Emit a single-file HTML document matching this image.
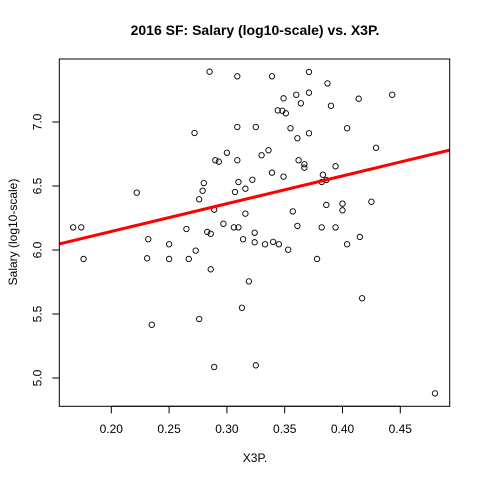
<!DOCTYPE html>
<html><head><meta charset="utf-8"><style>
html,body{margin:0;padding:0;background:#fff;}
svg text{font-family:"Liberation Sans",Arial,sans-serif;}
</style></head><body>
<svg id="chart" width="480" height="480" viewBox="0 0 480 480">
<text x="255" y="35" text-anchor="middle" font-size="14" font-weight="bold">2016 SF: Salary (log10-scale) vs. X3P.</text>
<text x="255" y="462" text-anchor="middle" font-size="12">X3P.</text>
<text x="0" y="0" transform="translate(17,232) rotate(-90)" text-anchor="middle" font-size="12">Salary (log10-scale)</text>
<g id="xaxis"></g>
<g id="yaxis"></g>
<g id="points"></g>
<g id="fit"></g>
<rect x="59.3" y="59" width="390.4" height="347.3" fill="none" stroke="#000" stroke-width="1"/>
</svg>
<script>
const xTicks = [0.20, 0.25, 0.30, 0.35, 0.40, 0.45];
const xTickLabels = ["0.20", "0.25", "0.30", "0.35", "0.40", "0.45"];
const yTicks = [5.0, 5.5, 6.0, 6.5, 7.0];
const yTickLabels = ["5.0", "5.5", "6.0", "6.5", "7.0"];
const x3p = [.285,.309,.339,.371,.387,.360,.371,.349,.364,.390,.414,.344,.348,.351,.272,.309,.325,.355,.371,.361,.404,.429,.300,.336,.330,.290,.293,.309,.362,.367,.367,.394,.339,.349,.322,.310,.280,.279,.307,.316,.276,.383,.386,.382,.289,.316,.357,.386,.400,.400,.425,.297,.265,.283,.286,.306,.310,.324,.314,.324,.333,.340,.345,.353,.361,.382,.394,.415,.404,.378,.273,.267,.286,.319,.417,.313,.276,.289,.325,.480,.443,.222,.167,.174,.232,.250,.176,.231,.250,.235];
const salary = [7.393,7.357,7.357,7.391,7.302,7.213,7.229,7.185,7.146,7.127,7.182,7.091,7.088,7.068,6.914,6.961,6.961,6.951,6.912,6.873,6.951,6.799,6.760,6.779,6.740,6.701,6.690,6.701,6.701,6.670,6.643,6.654,6.604,6.573,6.549,6.531,6.523,6.463,6.453,6.479,6.396,6.588,6.547,6.531,6.315,6.284,6.302,6.352,6.362,6.310,6.377,6.205,6.164,6.141,6.127,6.177,6.177,6.135,6.084,6.060,6.045,6.063,6.045,6.002,6.188,6.177,6.177,6.102,6.045,5.930,5.995,5.930,5.849,5.755,5.623,5.549,5.461,5.086,5.099,4.880,7.213,6.448,6.177,6.177,6.084,6.045,5.930,5.935,5.930,5.416];
const fitIntercept = [5.711];
const fitSlope = [2.17];

const NS = "http://www.w3.org/2000/svg";
const plotLeft = 59.3, plotRight = 449.7, plotTop = 59, plotBottom = 406.3;
function X(v){ return 111.3 + (v - 0.20) * 1156; }
function Y(v){ return 250 - (v - 6.0) * 128; }
function mk(tag, attrs, parent){ const e = document.createElementNS(NS, tag); for (const k in attrs) e.setAttribute(k, attrs[k]); parent.appendChild(e); return e; }

const xg = document.getElementById('xaxis');
mk('line', {x1: X(xTicks[0]), x2: X(xTicks[xTicks.length-1]), y1: plotBottom, y2: plotBottom, stroke: '#000'}, xg);
xTicks.forEach((t, i) => {
  const l = mk('line', {x1: X(t), x2: X(t), y1: plotBottom, y2: plotBottom + 7, stroke: '#000'}, xg);
  
  
  const tx = mk('text', {x: X(t), y: 433, 'text-anchor': 'middle', 'font-size': 12}, xg);
  tx.textContent = xTickLabels[i];
  
  
});
const yg = document.getElementById('yaxis');
yTicks.forEach((t, i) => {
  const l = mk('line', {x1: plotLeft - 7, x2: plotLeft, y1: Y(t), y2: Y(t), stroke: '#000'}, yg);
  
  
  const tx = mk('text', {x: 0, y: 0, transform: `translate(${plotLeft - 18},${Y(t)}) rotate(-90)`, 'text-anchor': 'middle', 'font-size': 12}, yg);
  tx.textContent = yTickLabels[i];
  
  
});
const pg = document.getElementById('points');
x3p.forEach((v, i) => {
  const c = mk('circle', {cx: X(v), cy: Y(salary[i]), r: 2.7, fill: 'none', stroke: '#000', 'stroke-width': 0.9}, pg);
  
  
});
const fg = document.getElementById('fit');
const xl = 0.2 + (plotLeft - 111.3) / 1156, xr = 0.2 + (plotRight - 111.3) / 1156;
const fl = mk('line', {x1: plotLeft, x2: plotRight, y1: Y(fitIntercept[0] + fitSlope[0] * xl), y2: Y(fitIntercept[0] + fitSlope[0] * xr), stroke: '#ff0000', 'stroke-width': 3}, fg);


</script>
</body></html>
